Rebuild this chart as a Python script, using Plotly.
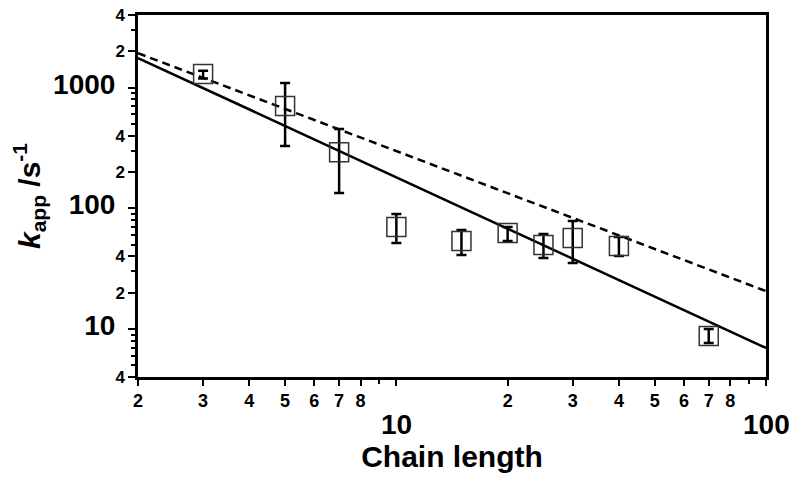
import math
import plotly.graph_objects as go

# ---- data ----
chain_length = [3, 5, 7, 10, 15, 20, 25, 30, 40, 70]
k_app = [1295, 703, 292, 70, 53.6, 62.4, 49.6, 56.7, 48.7, 8.75]
k_upper = [1380, 1092, 454, 89.6, 66.1, 70, 61.2, 78.4, 57.8, 10.0]
k_lower = [1190, 328, 134, 51.5, 41, 53.6, 38.7, 35.2, 40.2, 7.65]

fit_x = [2, 100]
fit_solid = [1760, 6.96]
fit_dashed = [1930, 20.6]

x_small_ticks = [2, 3, 4, 5, 6, 7, 8, 20, 30, 40, 50, 60, 70, 80]
x_small_labels = ["2", "3", "4", "5", "6", "7", "8", "2", "3", "4", "5", "6", "7", "8"]
x_major_ticks = [10, 100]
x_major_labels = ["10", "100"]
x_minor_ticks = [9, 90]

y_ticks = [4, 10, 20, 40, 100, 200, 400, 1000, 2000, 4000]
y_labels = ["4", "10", "2", "4", "100", "2", "4", "1000", "2", "4"]
y_big = {"10", "100", "1000"}
y_minor_ticks = [5, 6, 7, 8, 9, 30, 50, 60, 70, 80, 90, 300, 500, 600, 700, 800, 900, 3000]

FONT = "Liberation Sans, Arial, sans-serif"

err_plus = [u - v for u, v in zip(k_upper, k_app)]
err_minus = [v - l for v, l in zip(k_app, k_lower)]

fig = go.Figure()

fig.add_trace(go.Scatter(
    x=fit_x, y=fit_dashed, mode="lines",
    line=dict(color="black", width=2.5, dash="8px,5px"), showlegend=False))
fig.add_trace(go.Scatter(
    x=fit_x, y=fit_solid, mode="lines",
    line=dict(color="black", width=2.5), showlegend=False))
fig.add_trace(go.Scatter(
    x=chain_length, y=k_app, mode="markers",
    marker=dict(symbol="square-open", size=19, color="#333333", line=dict(width=1.5)),
    error_y=dict(type="data", symmetric=False, array=err_plus, arrayminus=err_minus,
                 color="black", thickness=2.5, width=5),
    showlegend=False))

ytext = [
    (f"<span style='font-size:28px'>{t}</span>"
     f"<span style='font-size:17px'>\u00a0\u00a0</span>") if t in y_big else t
    for t in y_labels
]

# the page body has an 8px margin, so the figure is drawn 8px in from the corner
fig.update_layout(
    width=792, height=474,
    margin=dict(l=130, r=34, t=7, b=105, autoexpand=False),
    paper_bgcolor="white", plot_bgcolor="white",
    font=dict(family=FONT, color="black"),
    xaxis=dict(
        type="log", range=[math.log10(2), math.log10(100)], automargin=False,
        showline=True, linecolor="black", linewidth=2.5, mirror=True,
        showgrid=False, zeroline=False,
        ticks="outside", ticklen=6, tickwidth=2, tickcolor="black",
        tickvals=x_small_ticks + x_major_ticks,
        ticktext=x_small_labels + ["" for _ in x_major_labels],
        tickfont=dict(family=FONT, size=18, color="black", weight="bold"),
        ticklabeloverflow="allow",
        minor=dict(tickvals=x_minor_ticks, ticks="outside", ticklen=4, tickwidth=2, tickcolor="black"),
        title=dict(text="<b>Chain length</b>", font=dict(family=FONT, size=30, color="black"), standoff=36),
    ),
    yaxis=dict(
        type="log", range=[math.log10(4), math.log10(4000)], automargin=False,
        showline=True, linecolor="black", linewidth=2.5, mirror=True,
        showgrid=False, zeroline=False,
        ticks="outside", ticklen=7, tickwidth=2, tickcolor="black",
        tickvals=y_ticks, ticktext=ytext,
        tickfont=dict(family=FONT, size=17, color="black", weight="bold"),
        ticklabeloverflow="allow",
        minor=dict(tickvals=y_minor_ticks, ticks="outside", ticklen=4, tickwidth=2, tickcolor="black"),
        title=dict(text="<b><i>k</i><sub>app</sub> /s<sup>-1</sup></b>",
                   font=dict(family=FONT, size=30, color="black"), standoff=18),
    ),
)

for v, t in zip(x_major_ticks, x_major_labels):
    fig.add_annotation(x=math.log10(v), y=0, xref="x", yref="paper",
                       yshift=-30, yanchor="top", showarrow=False,
                       text=f"<b>{t}</b>", font=dict(family=FONT, size=28, color="black"))

fig.write_html("out.html")
